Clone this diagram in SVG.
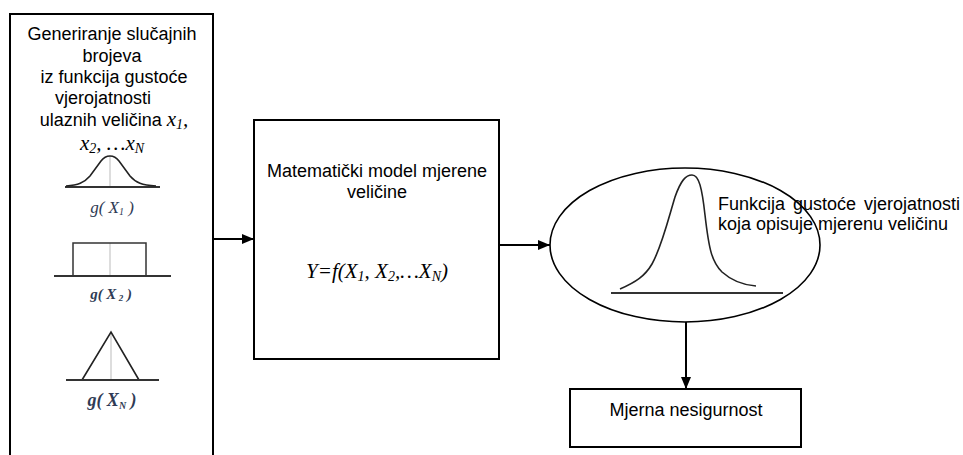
<svg xmlns="http://www.w3.org/2000/svg" width="963" height="455" viewBox="0 0 963 455">
<defs>
<marker id="ah" markerWidth="12" markerHeight="10" refX="12" refY="5" orient="auto" markerUnits="userSpaceOnUse">
<path d="M0,0 L12,5 L0,10 Z" fill="#000"/>
</marker>
<style>
.box{fill:#fff;stroke:#000;stroke-width:2}
.t{font-family:"Liberation Sans",Arial,sans-serif;font-size:18px;fill:#000}
.m{font-family:"Liberation Serif","Times New Roman",serif;font-style:italic;fill:#000}
.g{font-family:"Liberation Serif","Times New Roman",serif;font-style:italic;font-weight:bold;fill:#2f3b55}
.gn{font-weight:normal}
.ax{stroke:#333;stroke-width:2;fill:none}
.cv{stroke:#222;stroke-width:1.6;fill:none}
.gl{stroke:#bbb;stroke-width:1}
.c{stroke:#000;stroke-width:2;fill:none}
</style>
</defs>
<rect width="963" height="455" fill="#fff"/>
<g id="input">
<path class="box" d="M10,470 V14 H213 V470"/>
<text class="t" text-anchor="middle" x="112" y="40">Generiranje slučajnih</text>
<text class="t" text-anchor="middle" x="112" y="62">brojeva</text>
<text class="t" text-anchor="middle" x="114" y="83">iz funkcija gustoće</text>
<text class="t" text-anchor="middle" x="103" y="104">vjerojatnosti</text>
<text class="t" text-anchor="middle" x="114" y="126">ulaznih veličina <tspan class="m" font-size="21">x</tspan><tspan class="m" font-size="14" dy="3">1</tspan><tspan class="m" font-size="21" dy="-3">,</tspan></text>
<text class="m" font-size="21" text-anchor="middle" x="112" y="150">x<tspan font-size="14" dy="3">2</tspan><tspan dy="-3">, …x</tspan><tspan font-size="14" dy="3">N</tspan></text>
<line class="gl" x1="110" y1="156" x2="110" y2="187"/>
<line class="ax" x1="65" y1="187" x2="160" y2="187"/>
<path class="cv" d="M66,186 C78,185 84,183 90,176 L101,161 C104,157 106,156 110,156 C114,156 116,157 119,161 L130,176 C136,183 142,185 156,186"/>
<text class="g gn" font-size="17" text-anchor="middle" x="112" y="213">g( X<tspan font-size="10" dy="2">1</tspan><tspan dy="-2"> )</tspan></text>
<line class="gl" x1="110" y1="243" x2="110" y2="276"/>
<rect x="73" y="243" width="73" height="33" fill="none" stroke="#333" stroke-width="1.5"/>
<line class="ax" x1="54" y1="276" x2="171" y2="276"/>
<text class="g" font-size="15" text-anchor="middle" x="111" y="299">g( X<tspan font-size="9" dy="2"> 2</tspan><tspan dy="-2"> )</tspan></text>
<line class="gl" x1="111" y1="332" x2="111" y2="380"/>
<path class="cv" d="M82,380 L111,332 L139,380"/>
<line class="ax" x1="66" y1="380" x2="159" y2="380"/>
<text class="g" font-size="18" text-anchor="middle" x="112" y="406">g( X<tspan font-size="10" dy="3">N</tspan><tspan dy="-3"> )</tspan></text>
</g>
<g id="model">
<rect class="box" x="254" y="120" width="245" height="239"/>
<text class="t" text-anchor="middle" x="377" y="177">Matematički model mjerene</text>
<text class="t" text-anchor="middle" x="377" y="198">veličine</text>
<text class="m" font-size="21" text-anchor="middle" x="377" y="278">Y=f(X<tspan font-size="14" dy="3">1</tspan><tspan dy="-3">, X</tspan><tspan font-size="14" dy="3">2</tspan><tspan dy="-3">,…X</tspan><tspan font-size="14" dy="3">N</tspan><tspan dy="-3">)</tspan></text>
</g>
<g id="pdf">
<ellipse cx="685" cy="245" rx="135" ry="77" fill="none" stroke="#000" stroke-width="1.6"/>
<line class="ax" x1="611" y1="293" x2="783" y2="293" stroke="#000"/>
<path class="cv" d="M620,289 C636,282 645,276 652,264 C662,246 668,220 675,197 C681,180 686,175 692,175 C699,175 702,188 705,215 C709,250 712,262 722,272 C732,281 742,285 756,286"/>
<text class="t" x="718" y="210" word-spacing="3">Funkcija gustoće vjerojatnosti</text>
<text class="t" x="718" y="230">koja opisuje mjerenu veličinu</text>
</g>
<g id="uncertainty">
<rect class="box" x="570" y="389" width="231" height="58"/>
<text class="t" text-anchor="middle" x="686" y="416">Mjerna nesigurnost</text>
</g>
<g id="connectors">
<line class="c" x1="214" y1="239" x2="254" y2="239" marker-end="url(#ah)"/>
<line class="c" x1="499" y1="245" x2="550" y2="245" marker-end="url(#ah)"/>
<line class="c" x1="686" y1="322" x2="686" y2="389" marker-end="url(#ah)"/>
</g>
</svg>
